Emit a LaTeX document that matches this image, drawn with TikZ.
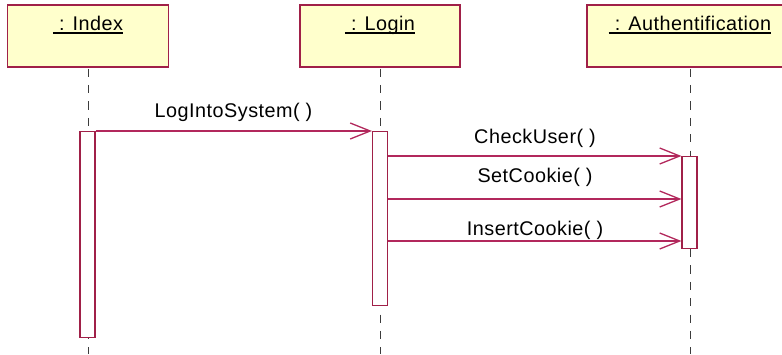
\documentclass[tikz,border=0pt]{standalone}
\usepackage{fontspec}
\setmainfont{Liberation Sans}[LetterSpace=2.5]
\usetikzlibrary{arrows.meta}
\definecolor{objfill}{RGB}{255,255,204}
\definecolor{objedge}{RGB}{160,32,72}
\definecolor{msgline}{RGB}{178,40,92}
\definecolor{lifegray}{RGB}{60,60,60}
\begin{document}
\begin{tikzpicture}[x=1pt,y=-1pt,
  objbox/.style={draw=objedge, fill=objfill, line width=1.1pt, inner sep=0pt,
    minimum height=62pt},
  objlabel/.style={inner sep=0pt, anchor=base, font=\fontsize{19.8}{22}\selectfont},
  msglabel/.style={inner sep=0pt, anchor=base, font=\fontsize{19.8}{22}\selectfont},
  lifeline/.style={draw=lifegray, line width=0.9pt, dash pattern=on 8.2pt off 8.2pt},
  actbar/.style={draw=objedge, fill=white, line width=1.2pt, inner sep=0pt,
    minimum width=15pt, anchor=north},
  msg/.style={draw=msgline, line width=1.1pt,
    -{Straight Barb[length=20pt,width=16pt,line width=1.3pt]}},
  uline/.style={line width=1.3pt}]
\useasboundingbox (0,0) rectangle (782,354);
\clip (0,0) rectangle (782,354);

% object boxes
\node[objbox, minimum width=161pt] (idx) at (88,36) {};
\node[objbox, minimum width=160pt] (login) at (380,36) {};
\node[objbox, minimum width=206pt] (auth) at (690,36) {};

% object names, underlined
\node[objlabel] (idxlbl) at (88,30) {~: Index};
\node[objlabel] (loginlbl) at (380,30) {~: Login};
\node[objlabel] (authlbl) at (690,30) {~: Authentification};
\foreach \n in {idxlbl,loginlbl,authlbl}
  \draw[uline] ([yshift=-3pt]\n.base west) -- ([yshift=-3pt]\n.base east);

% lifelines
\coordinate (idxend) at (88,354);
\coordinate (loginend) at (380,354);
\coordinate (authend) at (690,354);
\draw[lifeline] ([yshift=-1pt]idx.south) -- (idxend);
\draw[lifeline] ([yshift=-1pt]login.south) -- (loginend);
\draw[lifeline] ([yshift=-1pt]auth.south) -- (authend);

% activation bars
\node[actbar, minimum height=206pt] (idxact) at (87.5,131) {};
\node[actbar, minimum height=174pt] (loginact) at (380,131) {};
\node[actbar, minimum height=92pt] (authact) at (689.5,156) {};

% messages
\draw[msg] (idxact.north east) -- (loginact.north west);
\node[msglabel] (m1) at (233.5,117) {LogIntoSystem( )};

\coordinate (c2) at ([yshift=-25pt]loginact.north east);
\draw[msg] (c2) -- (c2 -| authact.west);
\node[msglabel] (m2) at (535,143) {CheckUser( )};

\coordinate (c3) at ([yshift=-68pt]loginact.north east);
\draw[msg] (c3) -- (c3 -| authact.west);
\node[msglabel] (m3) at (535,182) {SetCookie( )};

\coordinate (c4) at ([yshift=-110pt]loginact.north east);
\draw[msg] (c4) -- (c4 -| authact.west);
\node[msglabel] (m4) at (535,235) {InsertCookie( )};
\end{tikzpicture}
\end{document}
